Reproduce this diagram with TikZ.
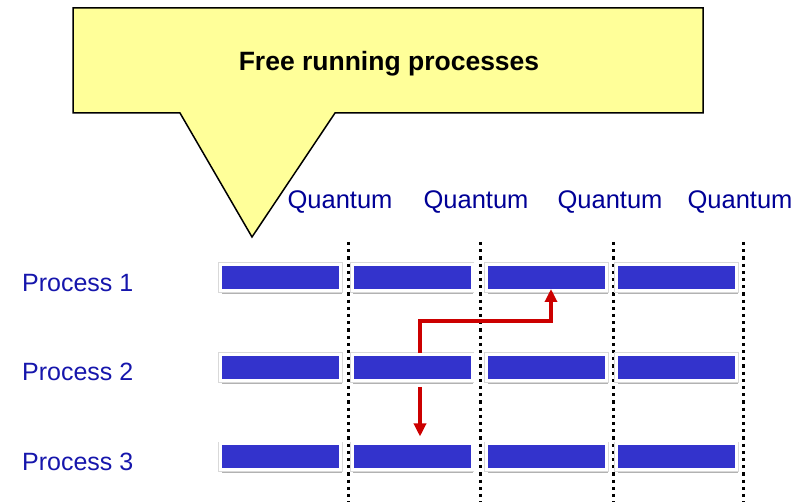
\documentclass[tikz,border=0pt]{standalone}
\usepackage{fontspec}
\setmainfont{Liberation Sans}
\usetikzlibrary{arrows.meta,shadows}
\definecolor{calloutfill}{RGB}{255,255,153}
\definecolor{barblue}{RGB}{51,51,204}
\definecolor{labelblue}{RGB}{22,22,172}
\definecolor{quantumblue}{RGB}{0,0,150}
\definecolor{flowred}{RGB}{204,0,0}
\begin{document}
\begin{tikzpicture}[x=1pt,y=-1pt,
  slot/.style={rectangle, fill=barblue, draw=white, line width=3pt,
    minimum width=120pt, minimum height=26pt, inner sep=0pt,
    drop shadow={shadow xshift=1.2pt, shadow yshift=-3.2pt, opacity=0.3, fill=black},
    preaction={draw=black!15, line width=4.6pt}},
  proc/.style={anchor=base west, text=labelblue, inner sep=0pt,
    font=\fontsize{25}{30}\selectfont},
  quant/.style={anchor=base, text=quantumblue, inner sep=0pt,
    font=\fontsize{25.5}{30}\selectfont},
  tick/.style={line width=3pt, dash pattern=on 3.2pt off 4pt},
  flow/.style={draw=flowred, line width=3.2pt, line join=miter,
    -{Triangle[length=13pt,width=12pt]}},
  callout/.style={fill=calloutfill, draw=black, line width=1.5pt, line join=miter}]

\useasboundingbox (0,0) rectangle (807,502);

% speech-bubble callout
\path[callout] (73,8) -- (703,8) -- (703,113) -- (335,113) -- (252,237)
  -- (180,113) -- (73,113) -- cycle;
\node[font=\bfseries\fontsize{26.5}{30}\selectfont, inner sep=0pt] (title) at (389,64)
  {Free running processes};

% quantum headings
\node[quant] (q1) at (340,209) {Quantum};
\node[quant] (q2) at (476,209) {Quantum};
\node[quant] (q3) at (610,209) {Quantum};
\node[quant] (q4) at (740,209) {Quantum};

% quantum boundaries
\draw[tick] (348,242) -- (348,502);
\draw[tick] (480,242) -- (480,502);
\draw[tick] (613,242) -- (613,502);
\draw[tick] (743,242) -- (743,502);

% process labels
\node[proc] (p1) at (22,292) {Process 1};
\node[proc] (p2) at (22,381) {Process 2};
\node[proc] (p3) at (22,471) {Process 3};

% time slices: b<row><column>
\foreach \r/\y in {1/277.5, 2/367.5, 3/457}
  \foreach \c/\x in {1/280.5, 2/412, 3/546.5, 4/676.5}
    \node[slot] (b\r\c) at (\x,\y) {};

% interactions between processes
\coordinate (bend) at (420,321);
\draw[flow, shorten >=-3pt] ([xshift=8pt]b22.north) -- (bend) -| ([xshift=4.5pt]b13.south);
\coordinate (drop) at (420,387);
\draw[flow, shorten >=6pt] (drop) -- ([xshift=8pt]b32.north);
\end{tikzpicture}
\end{document}
